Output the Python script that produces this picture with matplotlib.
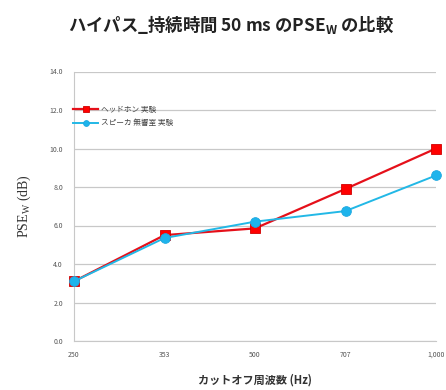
import matplotlib
matplotlib.use("Agg")
import matplotlib.pyplot as plt

plt.rcParams['font.family'] = ['Noto Sans CJK JP', 'DejaVu Sans']

cutoffs = ["250", "353", "500", "707", "1,000"]
headphone = [3.1, 5.5, 5.85, 7.9, 10.0]
speaker = [3.1, 5.35, 6.2, 6.75, 8.6]
series_names = ["ヘッドホン 実験", "スピーカ 無響室 実験"]
yticks = [0, 2, 4, 6, 8, 10, 12, 14]

fig = plt.figure(figsize=(4.46, 3.90), dpi=100)
ax = fig.add_axes([74 / 446, 1 - 341 / 390, (436 - 74) / 446, (341 - 71.5) / 390])

x = list(range(len(cutoffs)))
ax.plot(x, headphone, color='#E5101A', lw=1.6, marker='s', ms=7.5,
        mfc='#FF0000', mec='#D00000', mew=0.6, clip_on=False, zorder=4,
        label=series_names[0])
ax.plot(x, speaker, color='#22B8E6', lw=1.4, marker='o', ms=7,
        mfc='#1EB4EC', mec='#1EA8E0', mew=0.6, clip_on=False, zorder=5,
        label=series_names[1])

ax.set_xlim(0, len(cutoffs) - 1)
ax.set_ylim(0, 14)
ax.set_xticks(x)
ax.set_xticklabels(cutoffs)
ax.set_yticks(yticks)
ax.set_yticklabels([f"{v:.1f}" for v in yticks])
ax.tick_params(axis='both', length=0, labelsize=5, colors='#555555', pad=8)
ax.tick_params(axis='x', pad=7)

ax.yaxis.grid(True, color='#C8C8C8', lw=0.9)
ax.set_axisbelow(True)
for s in ['top', 'right']:
    ax.spines[s].set_visible(False)
ax.spines['left'].set_color('#C8C8C8')
ax.spines['bottom'].set_color('#C8C8C8')

leg = ax.legend(loc='upper left', bbox_to_anchor=(-0.01, 0.885), frameon=False,
                fontsize=5.5, handlelength=3.2, handletextpad=0.4,
                labelspacing=0.75, borderaxespad=0, markerscale=0.6)
for t in leg.get_texts():
    t.set_color('#444444')

ax.set_ylabel(r"PSE$_\mathregular{W}$ (dB)", family=['Liberation Serif', 'DejaVu Serif'],
              fontsize=10, color='#333333', labelpad=12)
ax.set_xlabel("カットオフ周波数 (Hz)", fontsize=8, fontweight='bold',
              color='#333333', labelpad=11)

fig.text(0.518, 0.937, r"ハイパス_持続時間 50 ms のPSE$_\mathregular{W}$ の比較",
         ha='center', va='center', fontsize=12.5, fontweight='bold', color='#222222')

fig.savefig("out.png", dpi=100, facecolor='white')
